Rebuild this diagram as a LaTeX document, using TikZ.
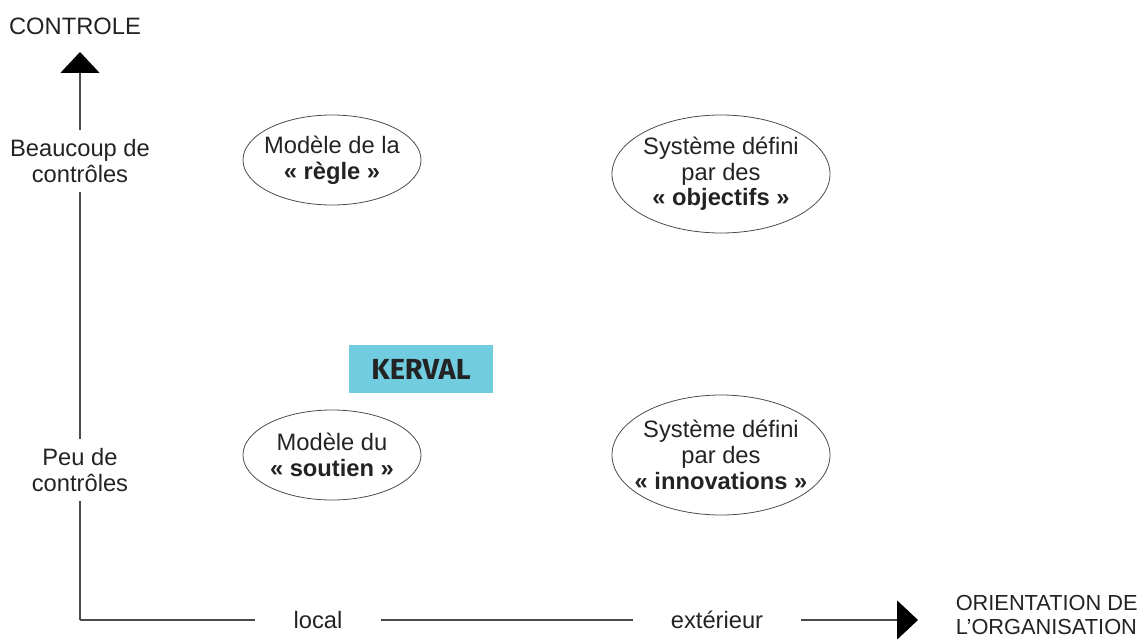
\documentclass[tikz,border=0pt]{standalone}
\usepackage{fontspec}
\setmainfont{Liberation Sans}
\newfontfamily\keravfont{Fira Sans}
\usetikzlibrary{shapes.geometric,arrows.meta}
\definecolor{axisgray}{HTML}{4A4A4A}
\definecolor{inkgray}{HTML}{232323}
\definecolor{kervalblue}{HTML}{72CCE0}
\begin{document}
\begin{tikzpicture}[x=0.02cm,y=-0.02cm,line width=0.85pt,
  every node/.style={font=\fontsize{13.5}{14.6}\selectfont,text=inkgray},
  model/.style={align=center,inner sep=0pt},
  ring/.style={draw=axisgray,line width=0.45pt},
  vlabel/.style={align=center,inner xsep=0pt,inner ysep=0.17cm},
  hlabel/.style={inner xsep=0.75cm,inner ysep=0pt},
  axis/.style={draw=axisgray},
  tip/.style={-{Triangle[length=0.42cm,width=0.78cm,color=black,fill=black]}}]
 \useasboundingbox (0,0) rectangle (1144,639);
 \coordinate (origin) at (80,620);
 \coordinate (ytip) at (80,52);
 \coordinate (xtip) at (918,620);
 % axis labels
 \node (ytitle) at (75,26) {CONTROLE};
 \node[vlabel] (beaucoup) at (80,161) {Beaucoup de\\contrôles};
 \node[vlabel] (peu) at (80,470) {Peu de\\contrôles};
 \node[hlabel] (local) at (318,620) {local};
 \node[hlabel] (ext) at (717,620) {extérieur};
 \node[anchor=west,align=left,inner xsep=0pt,font=\fontsize{12.4}{13.6}\selectfont]
   (xtitle) at (955,615) {ORIENTATION DE\\L'ORGANISATION};
 % axes
 \draw[axis] (origin) -- (peu.south);
 \draw[axis] (peu.north) -- (beaucoup.south);
 \draw[axis,tip] (beaucoup.north) -- (ytip);
 \draw[axis] (origin) -- (local.west);
 \draw[axis] (local.east) -- (ext.west);
 \draw[axis,tip] (ext.east) -- (xtip);
 % models
 \node[model] (regle) at (332,160) {Modèle de la\\\textbf{« règle »}};
 \node[model] (objectifs) at (721,174) {Système défini\\par des\\\textbf{« objectifs »}};
 \node[model] (soutien) at (332,455) {Modèle du\\\textbf{« soutien »}};
 \node[model] (innovations) at (721,455) {Système défini\\par des\\\textbf{« innovations »}};
 \draw[ring] (regle.center) ellipse [x radius=89, y radius=45];
 \draw[ring] (objectifs.center) ellipse [x radius=109, y radius=59];
 \draw[ring] (soutien.center) ellipse [x radius=89, y radius=45];
 \draw[ring] (innovations.center) ellipse [x radius=109, y radius=60];
 % company
 \node[fill=kervalblue,minimum width=2.9cm,minimum height=0.98cm,
   font=\keravfont\bfseries\fontsize{16.5}{18}\selectfont] (kerval) at (421,369) {KERVAL};
\end{tikzpicture}
\end{document}
